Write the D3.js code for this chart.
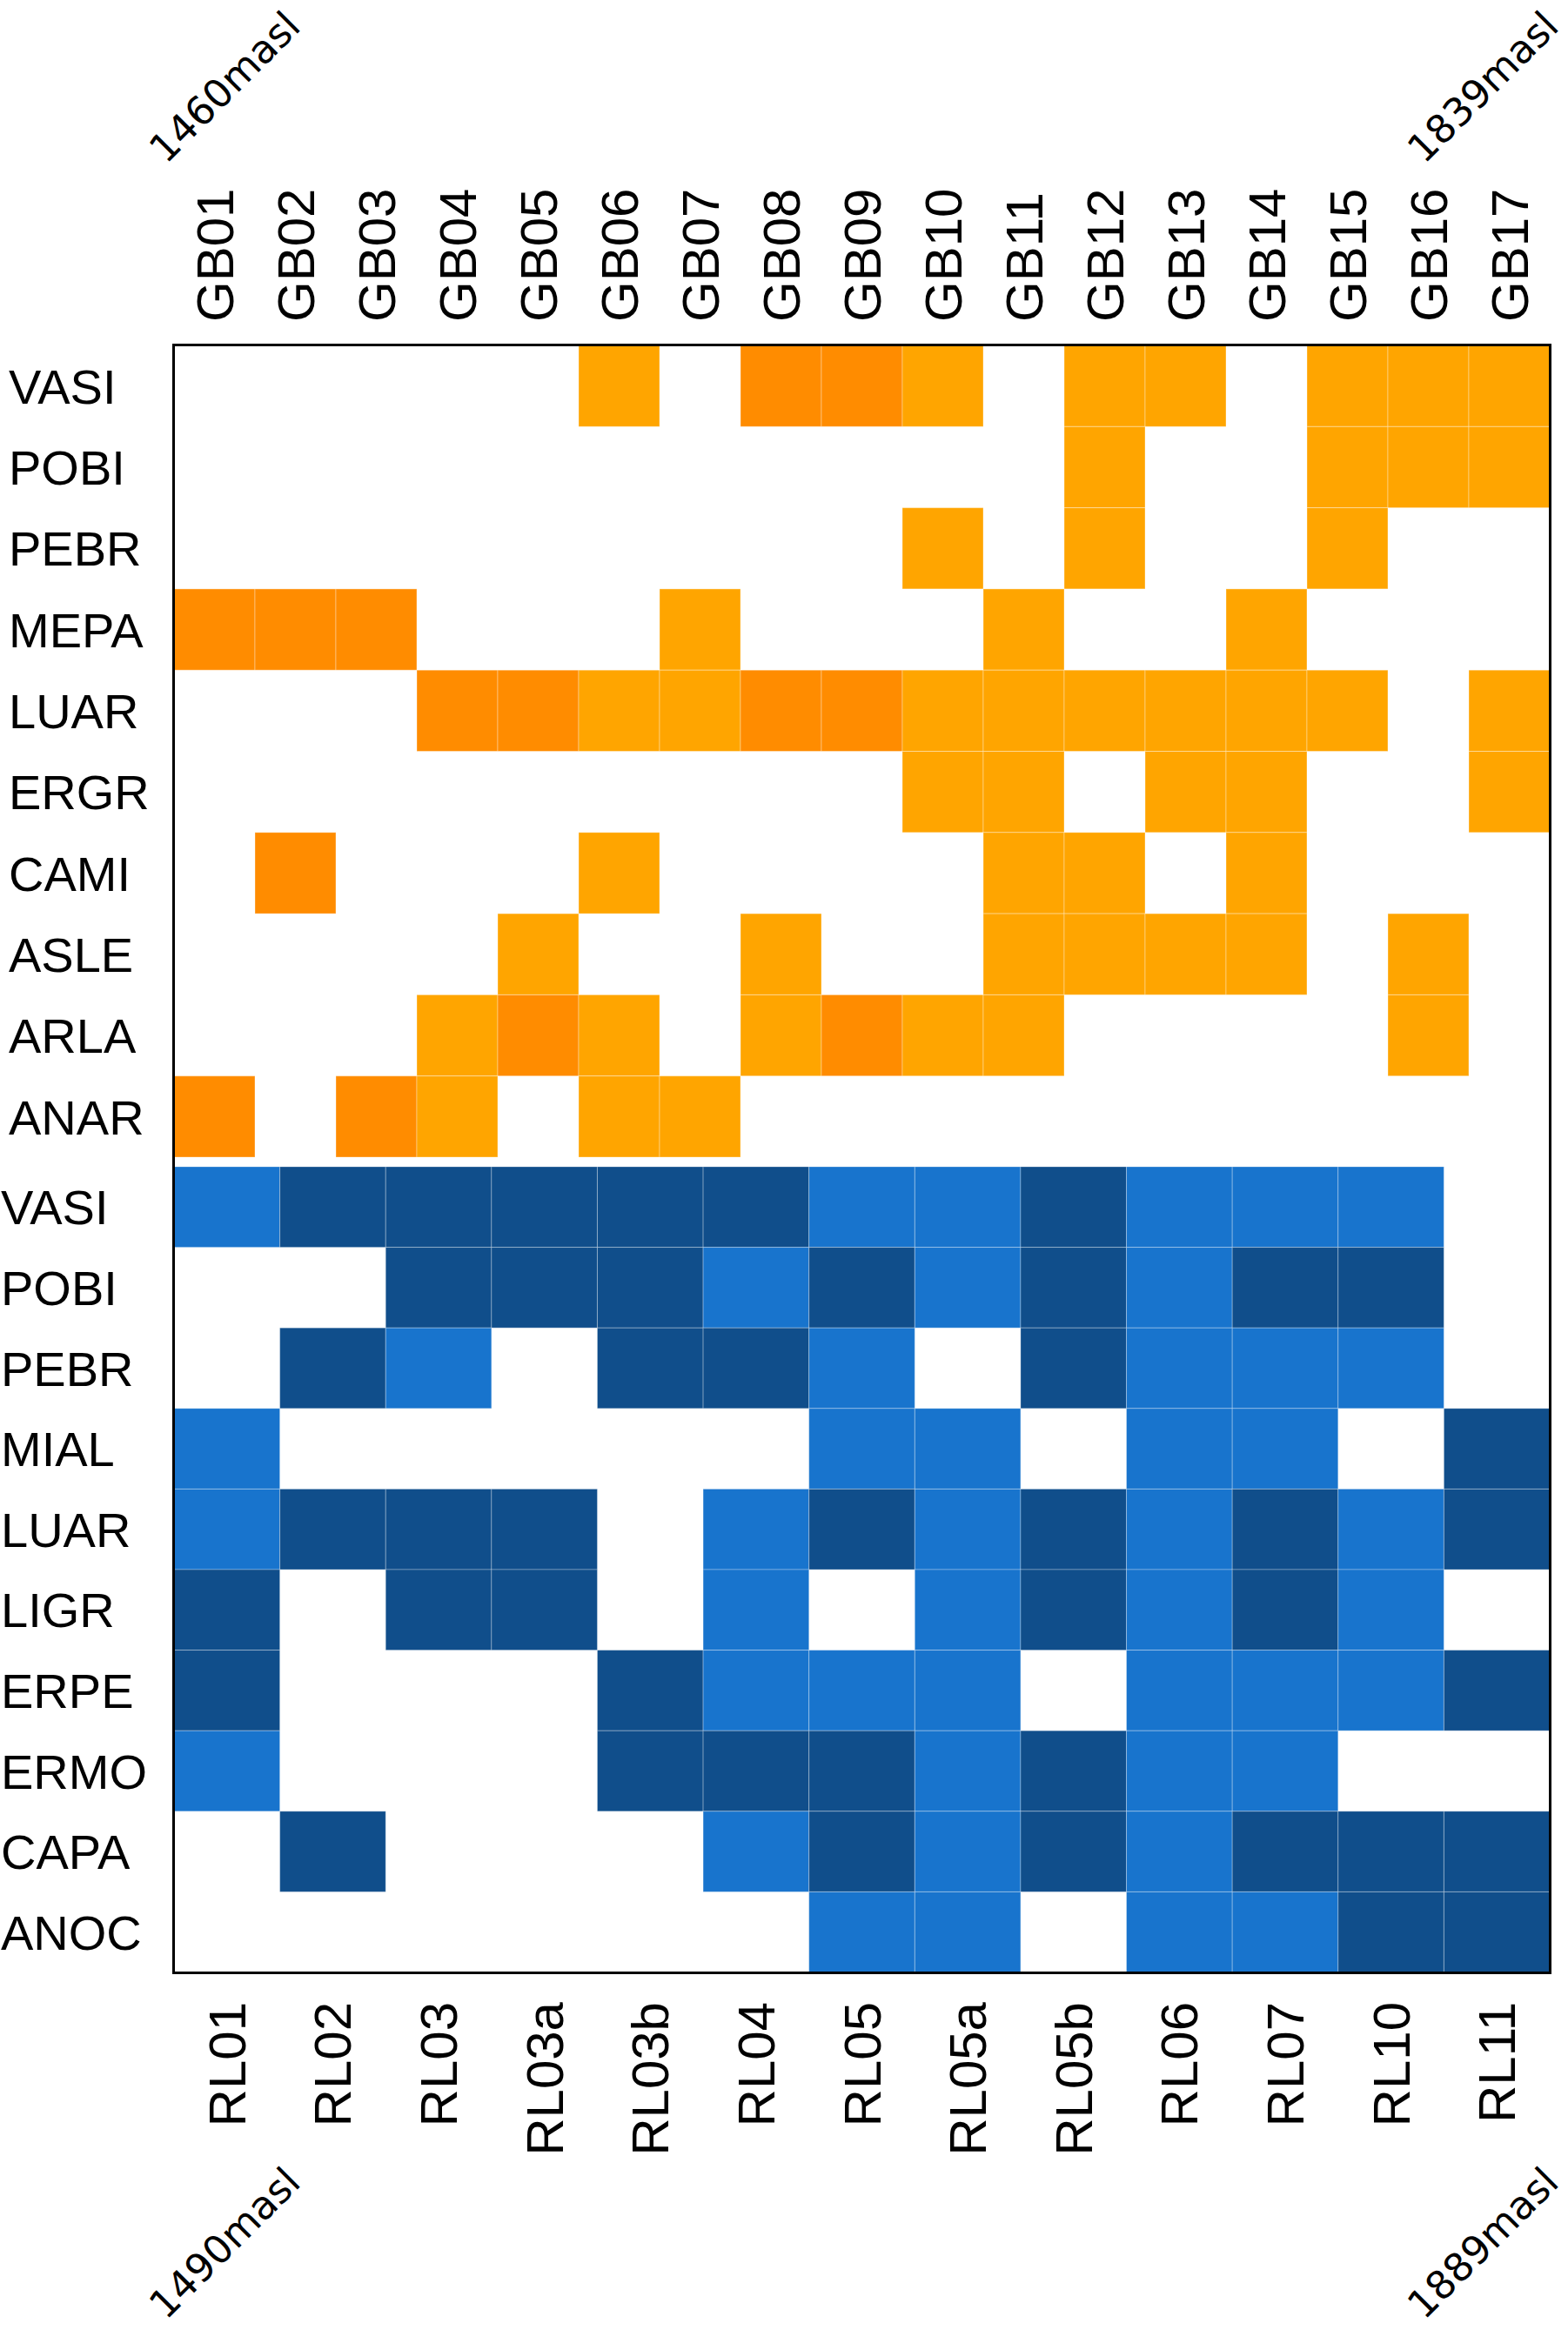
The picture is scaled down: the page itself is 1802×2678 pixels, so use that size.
<!DOCTYPE html>
<html>
<head>
<meta charset="utf-8">
<script src="https://cdn.jsdelivr.net/npm/d3@7"></script>
<style>
  html, body { margin: 0; padding: 0; background: #ffffff; }
  svg { display: block; }
</style>
</head>
<body>
<script>
// ---------------- DATA ----------------
const gbSites = ["GB01","GB02","GB03","GB04","GB05","GB06","GB07","GB08","GB09","GB10","GB11","GB12","GB13","GB14","GB15","GB16","GB17"];
const gbSpecies = ["VASI","POBI","PEBR","MEPA","LUAR","ERGR","CAMI","ASLE","ARLA","ANAR"];
// 0 = absent, 1 = present, 2 = present (dark shade)
const gbValues = [
  [0,0,0,0,0,1,0,2,2,1,0,1,1,0,1,1,1],
  [0,0,0,0,0,0,0,0,0,0,0,1,0,0,1,1,1],
  [0,0,0,0,0,0,0,0,0,1,0,1,0,0,1,0,0],
  [2,2,2,0,0,0,1,0,0,0,1,0,0,1,0,0,0],
  [0,0,0,2,2,1,1,2,2,1,1,1,1,1,1,0,1],
  [0,0,0,0,0,0,0,0,0,1,1,0,1,1,0,0,1],
  [0,2,0,0,0,1,0,0,0,0,1,1,0,1,0,0,0],
  [0,0,0,0,1,0,0,1,0,0,1,1,1,1,0,1,0],
  [0,0,0,1,2,1,0,1,2,1,1,0,0,0,0,1,0],
  [2,0,2,1,0,1,1,0,0,0,0,0,0,0,0,0,0]
];

const rlSites = ["RL01","RL02","RL03","RL03a","RL03b","RL04","RL05","RL05a","RL05b","RL06","RL07","RL10","RL11"];
const rlSpecies = ["VASI","POBI","PEBR","MIAL","LUAR","LIGR","ERPE","ERMO","CAPA","ANOC"];
const rlValues = [
  [1,2,2,2,2,2,1,1,2,1,1,1,0],
  [0,0,2,2,2,1,2,1,2,1,2,2,0],
  [0,2,1,0,2,2,1,0,2,1,1,1,0],
  [1,0,0,0,0,0,1,1,0,1,1,0,2],
  [1,2,2,2,0,1,2,1,2,1,2,1,2],
  [2,0,2,2,0,1,0,1,2,1,2,1,0],
  [2,0,0,0,2,1,1,1,0,1,1,1,2],
  [1,0,0,0,2,2,2,1,2,1,1,0,0],
  [0,2,0,0,0,1,2,1,2,1,2,2,2],
  [0,0,0,0,0,0,1,1,0,1,1,2,2]
];

const elevationLabels = ["1460masl","1839masl","1490masl","1889masl"];

// ---------------- LAYOUT ----------------
const W = 1802, H = 2678;
const left = 200, right = 1781;
const topY0 = 397, topY1 = 1330;
const botY0 = 1341, botY1 = 2267;

const svg = d3.select("body").append("svg")
  .attr("width", W).attr("height", H)
  .attr("viewBox", `0 0 ${W} ${H}`);
svg.append("rect").attr("width", W).attr("height", H).attr("fill", "#ffffff");

const xTop = d3.scaleBand().domain(gbSites).range([left, right]);
const yTop = d3.scaleBand().domain(gbSpecies).range([topY0, topY1]);
const xBot = d3.scaleBand().domain(rlSites).range([left, right]);
const yBot = d3.scaleBand().domain(rlSpecies).range([botY0, botY1]);

const orangeColor = d3.scaleOrdinal().domain([1,2]).range(["#FFA500","#FF8C00"]);
const blueColor = d3.scaleOrdinal().domain([1,2]).range(["#1874CD","#104E8B"]);

function cells(values, rows, cols) {
  const out = [];
  values.forEach((row, i) => row.forEach((v, j) => {
    if (v > 0) out.push({ row: rows[i], col: cols[j], v });
  }));
  return out;
}

// orange panel
svg.append("g").selectAll("rect")
  .data(cells(gbValues, gbSpecies, gbSites))
  .join("rect")
  .attr("x", d => xTop(d.col))
  .attr("y", d => yTop(d.row))
  .attr("width", xTop.bandwidth())
  .attr("height", yTop.bandwidth())
  .attr("fill", d => orangeColor(d.v))
  .attr("stroke", "rgba(255,255,255,0.35)")
  .attr("stroke-width", 1);

// blue panel
svg.append("g").selectAll("rect")
  .data(cells(rlValues, rlSpecies, rlSites))
  .join("rect")
  .attr("x", d => xBot(d.col))
  .attr("y", d => yBot(d.row))
  .attr("width", xBot.bandwidth())
  .attr("height", yBot.bandwidth())
  .attr("fill", d => blueColor(d.v))
  .attr("stroke", "rgba(255,255,255,0.3)")
  .attr("stroke-width", 1);

// frame
svg.append("rect")
  .attr("x", 199.5).attr("y", 396.5)
  .attr("width", 1782 - 200).attr("height", 2267.5 - 396.5)
  .attr("fill", "none").attr("stroke", "#000").attr("stroke-width", 3);

const labelFont = "'Liberation Sans', Arial, Helvetica, sans-serif";

// top axis (GB sites)
const gTop = svg.append("g").attr("transform", "translate(0,370)")
  .call(d3.axisTop(xTop).tickSize(0).tickPadding(0));
gTop.select(".domain").remove();
gTop.selectAll("text")
  .attr("x", 0).attr("y", 0).attr("dy", "0.35em")
  .attr("transform", "rotate(-90)")
  .attr("text-anchor", "start")
  .attr("fill", "#000")
  .style("font-family", labelFont)
  .style("font-size", "60px");

// bottom axis (RL sites)
const gBot = svg.append("g").attr("transform", "translate(0,2301)")
  .call(d3.axisBottom(xBot).tickSize(0).tickPadding(0));
gBot.select(".domain").remove();
gBot.selectAll("text")
  .attr("x", 0).attr("y", 0).attr("dy", "0.35em")
  .attr("transform", "rotate(-90)")
  .attr("text-anchor", "end")
  .attr("fill", "#000")
  .style("font-family", labelFont)
  .style("font-size", "60px");

// left axis (orange species)
const gLeftTop = svg.append("g").attr("transform", "translate(10,0)")
  .call(d3.axisLeft(yTop).tickSize(0).tickPadding(0));
gLeftTop.select(".domain").remove();
gLeftTop.selectAll("text")
  .attr("x", 0).attr("dy", "0.36em")
  .attr("text-anchor", "start")
  .attr("fill", "#000")
  .style("font-family", labelFont)
  .style("font-size", "56px");

// left axis (blue species)
const gLeftBot = svg.append("g").attr("transform", "translate(1,0)")
  .call(d3.axisLeft(yBot).tickSize(0).tickPadding(0));
gLeftBot.select(".domain").remove();
gLeftBot.selectAll("text")
  .attr("x", 0).attr("dy", "0.36em")
  .attr("text-anchor", "start")
  .attr("fill", "#000")
  .style("font-family", labelFont)
  .style("font-size", "56px");

// elevation annotations
const elevPos = [[258, 100], [1704, 100], [258, 2578], [1704, 2578]];
svg.append("g").selectAll("text")
  .data(elevationLabels)
  .join("text")
  .attr("transform", (d, i) => `translate(${elevPos[i][0]},${elevPos[i][1]}) rotate(-45)`)
  .attr("text-anchor", "middle")
  .attr("dy", "0.35em")
  .style("font-family", "'DejaVu Sans', sans-serif")
  .style("font-size", "45px")
  .attr("fill", "#000")
  .text(d => d);
</script>
</body>
</html>
